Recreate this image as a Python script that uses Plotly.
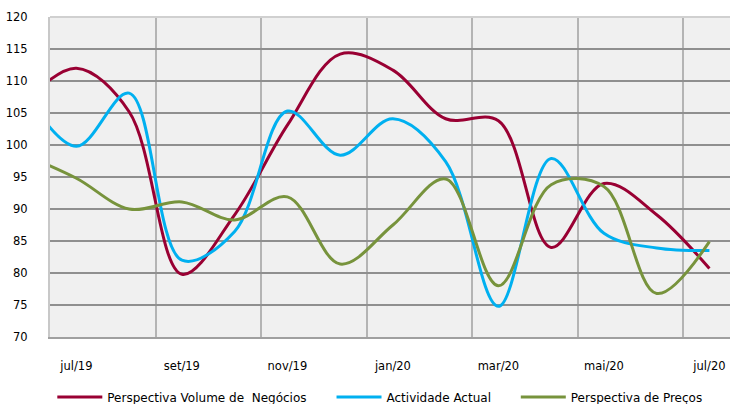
import plotly.graph_objects as go

# Monthly survey indicators (jun/19 .. jul/20)
months = ["jun/19", "jul/19", "ago/19", "set/19", "out/19", "nov/19", "dez/19",
          "jan/20", "fev/20", "mar/20", "abr/20", "mai/20", "jun/20", "jul/20"]
volume_negocios = [106.5, 112.0, 105.2, 79.8, 89.1, 103.1, 114.2, 111.7,
                   104.1, 103.8, 84.0, 94.0, 89.1, 80.7]
actividade_actual = [108.5, 99.8, 108.1, 82.0, 86.5, 105.3, 98.4, 104.1,
                     97.4, 74.8, 97.9, 86.2, 83.9, 83.5]
perspectiva_precos = [98.5, 94.8, 90.0, 91.1, 88.3, 91.9, 81.4, 87.5,
                      94.7, 78.0, 93.8, 93.5, 76.8, 84.9]
shown_labels = ["jul/19", "set/19", "nov/19", "jan/20", "mar/20", "mai/20", "jul/20"]

x_pos = list(range(-1, len(months) - 1))
label_pos = [x_pos[months.index(m)] for m in shown_labels]
grid_pos = [p - 0.5 for p in label_pos[1:]]

FONT = "DejaVu Sans, Verdana, sans-serif"

series = [
    ("Perspectiva Volume de \u00a0Negócios", volume_negocios, "#990033", "legend", 0.0034),
    ("Actividade Actual", actividade_actual, "#00B0F0", "legend2", 0.414),
    ("Perspectiva de Preços", perspectiva_precos, "#77933C", "legend3", 0.685),
]

fig = go.Figure()
legend_layout = {}
for name, vals, color, legend_id, lx in series:
    fig.add_trace(go.Scatter(
        x=x_pos, y=vals, name=name, mode="lines", legend=legend_id,
        line=dict(color=color, width=3, shape="spline", smoothing=1.0),
    ))
    legend_layout[legend_id] = dict(
        orientation="h", x=lx, xanchor="left", y=-0.1875, yanchor="middle",
        font=dict(family=FONT, size=12, color="#000000"),
        itemwidth=45, bgcolor="rgba(0,0,0,0)", borderwidth=0,
    )

fig.update_layout(
    width=730, height=404,
    margin=dict(l=50, r=0, t=17, b=67, autoexpand=False),
    paper_bgcolor="white",
    plot_bgcolor="#F0F0F0",
    font=dict(family=FONT, size=11.5, color="#000000"),
    showlegend=True,
    **legend_layout,
    xaxis=dict(
        range=[-0.5, 12.39],
        tickmode="array", tickvals=label_pos, ticktext=shown_labels,
        showgrid=False, zeroline=False,
        showline=True, linecolor="#A0A0A0", linewidth=2,
        ticks="", ticklabelstandoff=17,
        minor=dict(tickmode="array", tickvals=grid_pos, showgrid=True,
                   gridcolor="#B4B4B4", gridwidth=2, ticks=""),
        fixedrange=True,
    ),
    yaxis=dict(
        range=[70, 120], tickmode="linear", tick0=70, dtick=5,
        showgrid=True, gridcolor="#8F8F8F", gridwidth=1.5,
        zeroline=False, showline=True, linecolor="#C8C8C8", linewidth=2,
        ticks="", ticklabelstandoff=18,
        fixedrange=True,
    ),
    shapes=[dict(type="line", xref="paper", yref="paper", x0=0, x1=1, y0=1, y1=1,
                 line=dict(color="#D0D0D0", width=2), layer="above")],
)

fig.write_html("out.html")
